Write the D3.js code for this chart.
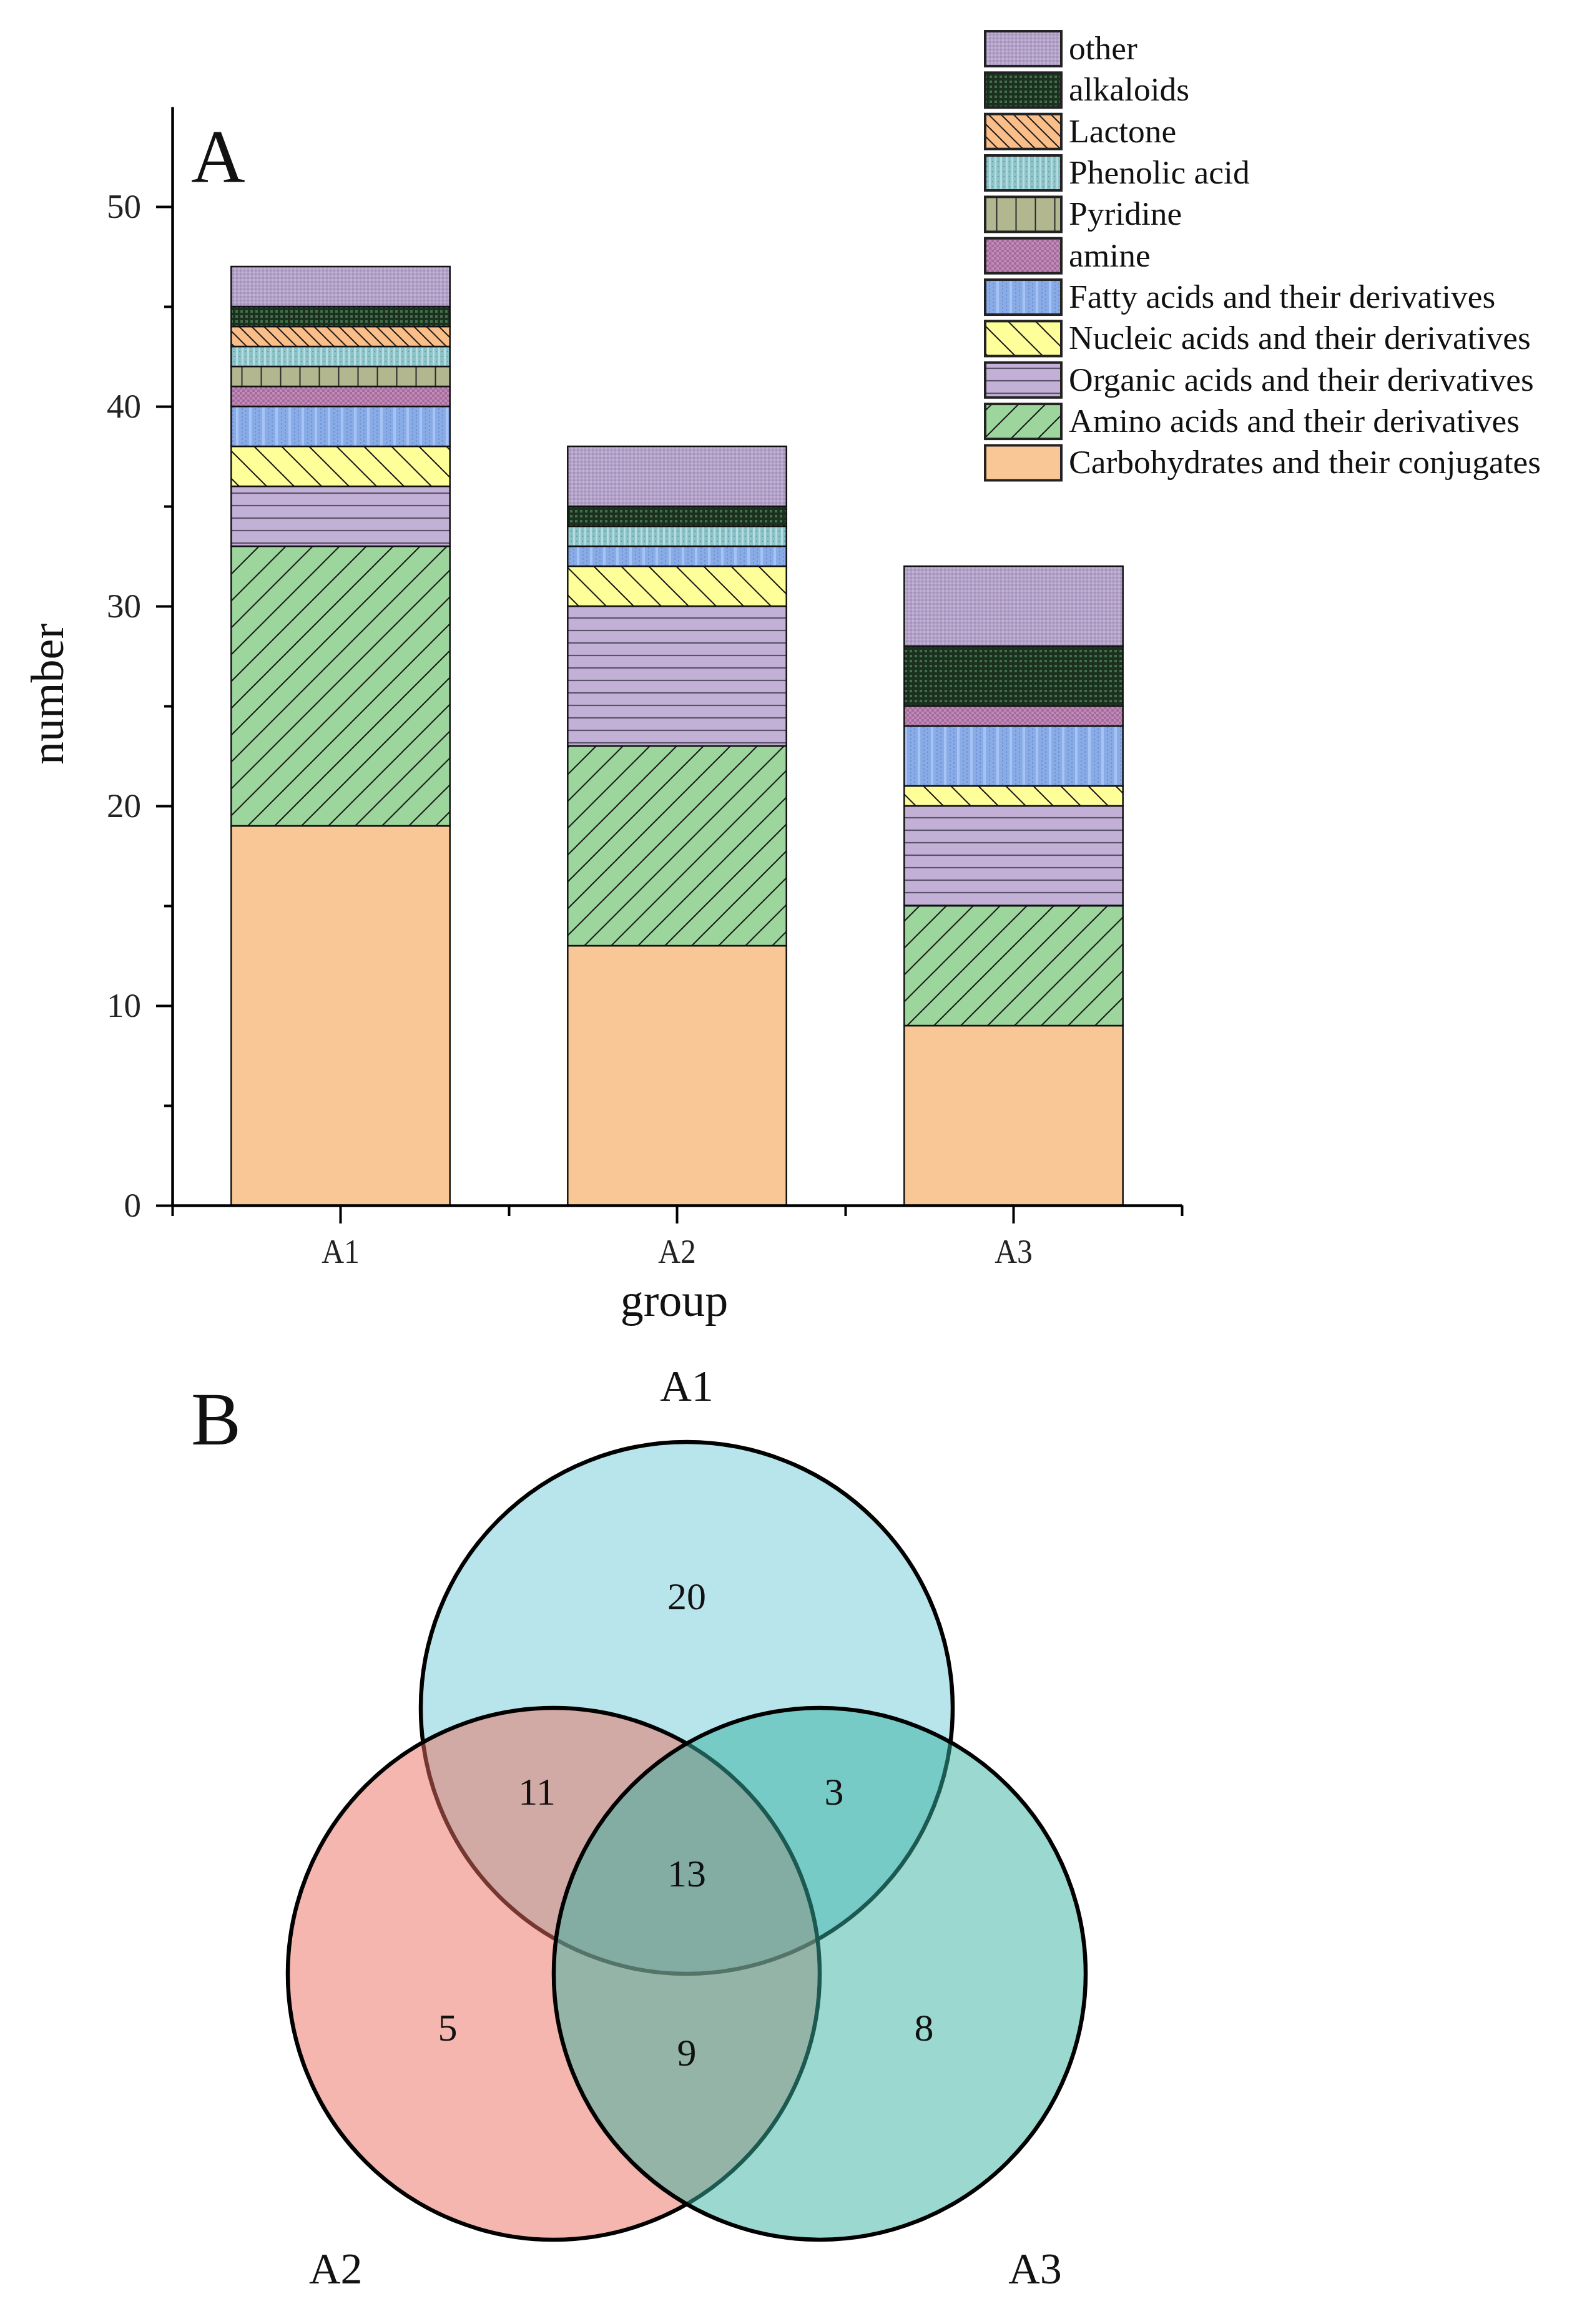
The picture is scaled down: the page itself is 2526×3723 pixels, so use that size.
<!DOCTYPE html>
<html>
<head>
<meta charset="utf-8">
<script src="https://cdn.jsdelivr.net/npm/d3@7/dist/d3.min.js"></script>
<style>
  html, body { margin: 0; padding: 0; background: #fff; }
  text { font-family: "Liberation Serif", "Times New Roman", serif; }
</style>
</head>
<body>
<svg id="chart" width="2526" height="3723"></svg>
<script>
// ---------------- DATA ----------------
const groups = ["A1", "A2", "A3"];
const categories = [
  "Carbohydrates and their conjugates",
  "Amino acids and their derivatives",
  "Organic acids and their derivatives",
  "Nucleic acids and their derivatives",
  "Fatty acids and their derivatives",
  "amine",
  "Pyridine",
  "Phenolic acid",
  "Lactone",
  "alkaloids",
  "other"
];
const carbohydrates = [19, 13, 9];
const aminoAcids    = [14, 10, 6];
const organicAcids  = [3, 7, 5];
const nucleicAcids  = [2, 2, 1];
const fattyAcids    = [2, 1, 3];
const amine         = [1, 0, 1];
const pyridine      = [1, 0, 0];
const phenolicAcid  = [1, 1, 0];
const lactone       = [1, 0, 0];
const alkaloids     = [1, 1, 3];
const other         = [2, 3, 4];
const seriesValues = [carbohydrates, aminoAcids, organicAcids, nucleicAcids, fattyAcids,
                      amine, pyridine, phenolicAcid, lactone, alkaloids, other];
const yTicks = [0, 10, 20, 30, 40, 50];
const yMinorTicks = [5, 15, 25, 35, 45];

// Venn data
const vennSets = ["A1", "A2", "A3"];
const vennRegionLabels = ["20", "11", "3", "13", "5", "9", "8"];
const vennRegionSets = ["A1", "A1∩A2", "A1∩A3", "A1∩A2∩A3", "A2", "A2∩A3", "A3"];

// ---------------- SETUP ----------------
const svg = d3.select("#chart");
svg.append("rect").attr("width", 2526).attr("height", 3723).attr("fill", "#fff");
const defs = svg.append("defs");

// patterns
function pat(id, w, h, bg, draw) {
  const p = defs.append("pattern").attr("id", id)
    .attr("patternUnits", "userSpaceOnUse").attr("width", w).attr("height", h);
  p.append("rect").attr("width", w).attr("height", h).attr("fill", bg);
  if (draw) draw(p);
}
pat("p0", 10, 10, "#f9c795");
pat("p1", 43, 43, "#9dd69d", p => p.append("path")
  .attr("d", "M0,43L43,0M-6,6L6,-6M37,49L49,37").attr("stroke", "#1a1a1a").attr("stroke-width", 2));
pat("p2", 20, 20, "#c2b0d6", p => p.append("path")
  .attr("d", "M0,10H20").attr("stroke", "#5a5268").attr("stroke-width", 2.2));
pat("p3", 44, 44, "#ffff99", p => p.append("path")
  .attr("d", "M0,0L44,44M-6,38L6,50M38,-6L50,6").attr("stroke", "#1a1a1a").attr("stroke-width", 2));
pat("p4", 21, 6, "#8aace6", p => {
  p.append("rect").attr("x", 0).attr("width", 4).attr("height", 6).attr("fill", "#a6c3f5");
  p.append("rect").attr("x", 9).attr("y", 0).attr("width", 2).attr("height", 3).attr("fill", "#7296d6");
  p.append("rect").attr("x", 15).attr("y", 3).attr("width", 2).attr("height", 3).attr("fill", "#7296d6");
});
pat("p5", 8, 8, "#a46b9c", p => {
  p.append("rect").attr("width", 4).attr("height", 4).attr("fill", "#c08bb7");
  p.append("rect").attr("x", 4).attr("y", 4).attr("width", 4).attr("height", 4).attr("fill", "#c08bb7");
});
pat("p6", 31, 31, "#b2b790", p => p.append("path")
  .attr("d", "M15.5,0V31").attr("stroke", "#2a2a2a").attr("stroke-width", 2));
pat("p7", 9, 8, "#8cc3c9", p => {
  p.append("rect").attr("x", 0).attr("width", 3).attr("height", 8).attr("fill", "#b4dde1");
  p.append("rect").attr("x", 5).attr("y", 2).attr("width", 2).attr("height", 2).attr("fill", "#6b9fa6");
});
pat("p8", 20, 20, "#fbbe88", p => p.append("path")
  .attr("d", "M0,0L20,20M-4,16L4,24M16,-4L24,4").attr("stroke", "#1f1f1f").attr("stroke-width", 2));
pat("p9", 8, 8, "#1b301e", p => {
  p.append("rect").attr("x", 1).attr("y", 1).attr("width", 4).attr("height", 4).attr("fill", "#41704a");
});
pat("p10", 6, 6, "#b4a2c9", p => {
  p.append("rect").attr("width", 3).attr("height", 3).attr("fill", "#a392bb");
  p.append("rect").attr("x", 3).attr("y", 3).attr("width", 3).attr("height", 3).attr("fill", "#c2b2d4");
});
const fillOf = d3.scaleOrdinal().domain(categories)
  .range(categories.map((c, i) => `url(#p${i})`));

// ---------------- PANEL A: STACKED BARS ----------------
const x = d3.scaleBand().domain(groups).range([276, 1893]).paddingInner(0.35).paddingOuter(0.175);
const y = d3.scaleLinear().domain([0, 55]).range([1931, 171]);

const rows = groups.map((g, gi) => {
  const r = { group: g };
  categories.forEach((c, ci) => { r[c] = seriesValues[ci][gi]; });
  return r;
});
const stacked = d3.stack().keys(categories)(rows);

const barG = svg.append("g");
stacked.forEach(layer => {
  barG.selectAll(null).data(layer.filter(d => d[1] - d[0] > 0)).enter().append("rect")
    .attr("x", d => x(d.data.group))
    .attr("width", x.bandwidth())
    .attr("y", d => y(d[1]))
    .attr("height", d => y(d[0]) - y(d[1]))
    .attr("fill", fillOf(layer.key))
    .attr("stroke", "#111")
    .attr("stroke-width", 2.5);
});

// Y axis
const yAxisG = svg.append("g").attr("transform", "translate(276,0)")
  .call(d3.axisLeft(y).tickValues(yTicks).tickSize(26).tickSizeOuter(0).tickPadding(24));
yAxisG.select(".domain").attr("stroke", "#000").attr("stroke-width", 4.5);
yAxisG.selectAll(".tick line").attr("stroke", "#000").attr("stroke-width", 4);
yAxisG.selectAll(".tick text").attr("font-size", 55).attr("fill", "#222")
  .style("font-family", '"Liberation Serif", "Times New Roman", serif');
const yMinorG = svg.append("g").attr("transform", "translate(276,0)")
  .call(d3.axisLeft(y).tickValues(yMinorTicks).tickSize(13).tickFormat(""));
yMinorG.select(".domain").remove();
yMinorG.selectAll(".tick line").attr("stroke", "#000").attr("stroke-width", 4);

// X axis
const xAxisG = svg.append("g").attr("transform", "translate(0,1931)")
  .call(d3.axisBottom(x).tickSize(29).tickSizeOuter(0).tickPadding(25));
xAxisG.select(".domain").attr("stroke", "#000").attr("stroke-width", 4.5);
xAxisG.selectAll(".tick line").attr("stroke", "#000").attr("stroke-width", 4);
xAxisG.selectAll(".tick text").attr("font-size", 54).attr("fill", "#222")
  .attr("transform", "scale(0.92,1)")
  .style("font-family", '"Liberation Serif", "Times New Roman", serif');
const xb = d3.scaleLinear().domain([0, groups.length]).range(x.range());
const xMinorG = svg.append("g").attr("transform", "translate(0,1931)")
  .call(d3.axisBottom(xb).tickValues(d3.range(groups.length + 1)).tickSize(17).tickFormat(""));
xMinorG.select(".domain").remove();
xMinorG.selectAll(".tick line").attr("stroke", "#000").attr("stroke-width", 4);

// axis titles
svg.append("text").attr("x", 1080).attr("y", 2108).attr("text-anchor", "middle")
  .attr("font-size", 74).attr("fill", "#111").text("group");
svg.append("text").attr("transform", "translate(101,1112) rotate(-90)").attr("text-anchor", "middle")
  .attr("font-size", 74).attr("fill", "#111").text("number");
svg.append("text").attr("x", 306).attr("y", 292).attr("font-size", 120).attr("fill", "#111").text("A");

// legend
const legendItems = categories.slice().reverse();
const legY = d3.scaleBand().domain(legendItems).range([50, 50 + 65.5 * legendItems.length]).paddingInner(0.14);
const legG = svg.append("g");
legendItems.forEach(c => {
  legG.append("rect").attr("x", 1578).attr("y", legY(c)).attr("width", 122).attr("height", 56)
    .attr("fill", fillOf(c)).attr("stroke", "#222").attr("stroke-width", 4);
  legG.append("text").attr("x", 1712).attr("y", legY(c) + 45).attr("font-size", 53.5)
    .attr("fill", "#111").text(c);
});

// ---------------- PANEL B: VENN ----------------
svg.append("text").attr("x", 306).attr("y", 2314).attr("font-size", 120).attr("fill", "#111").text("B");

const vennCenters = { A1: [0, -1], A2: [-0.5, 0], A3: [0.5, 0] };
const vennColors = d3.scaleOrdinal().domain(vennSets).range(["#71c9d9", "#e96d5d", "#35b1a1"]);
const vx = d3.scaleLinear().domain([-1, 1]).range([1100 - 426, 1100 + 426]);
const vy = d3.scaleLinear().domain([-1, 1]).range([3162 - 426, 3162 + 426]);
const vr = vx(1) - vx(0);

const vennG = svg.append("g");
vennSets.forEach(s => {
  vennG.append("circle")
    .attr("cx", vx(vennCenters[s][0])).attr("cy", vy(vennCenters[s][1])).attr("r", vr)
    .attr("fill", vennColors(s)).attr("fill-opacity", 0.5)
    .attr("stroke", "#000").attr("stroke-width", 6.5);
});
const regionPos = {
  "A1": [0, -1.42], "A1∩A2": [-0.563, -0.685], "A1∩A3": [0.554, -0.685],
  "A1∩A2∩A3": [0, -0.378], "A2": [-0.899, 0.202], "A2∩A3": [0, 0.296], "A3": [0.892, 0.202]
};
vennRegionSets.forEach((s, i) => {
  vennG.append("text").attr("x", vx(regionPos[s][0])).attr("y", vy(regionPos[s][1]))
    .attr("text-anchor", "middle").attr("dominant-baseline", "central")
    .attr("font-size", 62).attr("fill", "#111").text(vennRegionLabels[i]);
});
const setLabelPos = { A1: [0, -2.21], A2: [-1.32, 1.11], A3: [1.31, 1.11] };
vennSets.forEach(s => {
  vennG.append("text").attr("x", vx(setLabelPos[s][0])).attr("y", vy(setLabelPos[s][1]))
    .attr("text-anchor", "middle").attr("dominant-baseline", "central")
    .attr("font-size", 70).attr("fill", "#111").text(s);
});
</script>
</body>
</html>
